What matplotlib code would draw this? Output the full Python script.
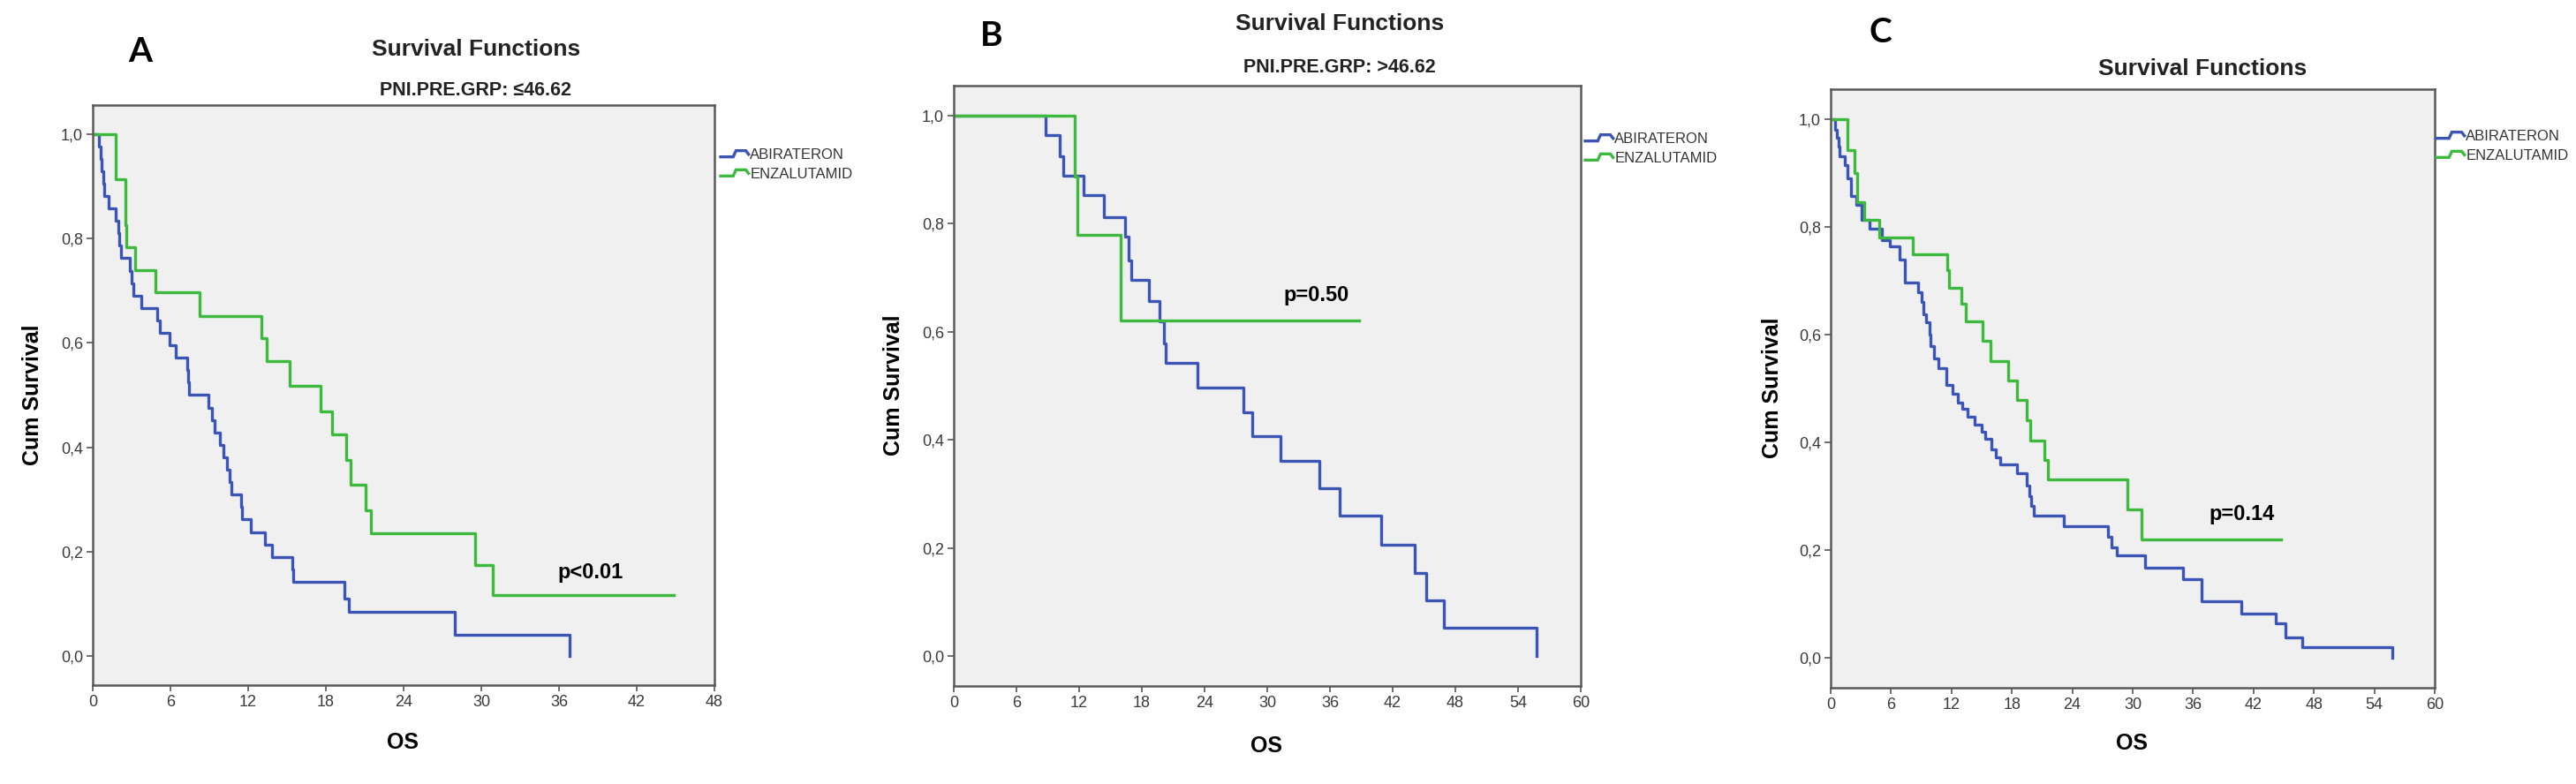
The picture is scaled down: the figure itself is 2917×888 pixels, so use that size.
#!/usr/bin/env python3
"""Kaplan-Meier survival curves, three panels (A, B, C), SPSS look."""

from __future__ import annotations

import matplotlib

matplotlib.use("Agg")
import matplotlib.pyplot as plt
from matplotlib.legend_handler import HandlerBase
from matplotlib.lines import Line2D
from matplotlib.ticker import FuncFormatter

# ---- data (months, cumulative survival) ----
groups = ["ABIRATERON", "ENZALUTAMID"]

a_abi_t = [0, 0.5, 0.6, 0.7, 0.8, 0.9, 1.25, 1.8, 1.95, 2.05, 2.15, 2.85, 3.0, 3.15,
           3.75, 5.0, 5.2, 5.95, 6.4, 7.3, 7.35, 7.4, 8.9, 9.2, 9.4, 9.8, 10.1, 10.35,
           10.6, 10.7, 11.45, 11.5, 12.2, 13.3, 13.85, 15.4, 15.5, 19.4, 19.8, 27.95, 36.8]
a_abi_s = [1.0, 0.976, 0.952, 0.929, 0.905, 0.881, 0.857, 0.833, 0.81, 0.786, 0.762,
           0.738, 0.714, 0.69, 0.667, 0.643, 0.619, 0.595, 0.571, 0.548, 0.524, 0.5,
           0.476, 0.452, 0.429, 0.405, 0.381, 0.357, 0.333, 0.31, 0.286, 0.262, 0.238,
           0.214, 0.19, 0.167, 0.143, 0.11, 0.085, 0.042, 0.0]
a_enz_t = [0, 1.75, 2.5, 2.55, 2.6, 3.3, 4.85, 8.25, 13.05, 13.45, 15.2, 17.6, 18.5,
           19.55, 19.9, 21.1, 21.5, 29.5, 30.9, 44.86]
a_enz_s = [1.0, 0.913, 0.87, 0.826, 0.783, 0.739, 0.696, 0.652, 0.609, 0.565, 0.517,
           0.469, 0.424, 0.376, 0.328, 0.28, 0.235, 0.174, 0.117, 0.117]

b_abi_t = [0, 8.8, 10.1, 10.5, 12.4, 14.35, 16.4, 16.7, 16.95, 18.7, 19.7, 20.1, 20.25,
           23.3, 27.7, 28.6, 31.3, 35.0, 36.9, 40.9, 44.1, 45.2, 46.9, 55.8]
b_abi_s = [1.0, 0.963, 0.925, 0.889, 0.852, 0.811, 0.776, 0.732, 0.696, 0.656, 0.619,
           0.579, 0.543, 0.496, 0.451, 0.407, 0.361, 0.31, 0.26, 0.206, 0.154, 0.103,
           0.052, 0.0]
b_enz_t = [0, 11.6, 11.8, 16.0, 38.8]
b_enz_s = [1.0, 0.887, 0.779, 0.621, 0.621]

c_abi_t = [0, 0.45, 0.6, 0.75, 0.9, 1.4, 1.7, 2.05, 2.5, 3.05, 3.9, 5.1, 5.85, 6.85,
           7.35, 8.7, 9.0, 9.25, 9.5, 9.8, 9.95, 10.25, 10.7, 11.5, 12.1, 12.6, 13.1,
           13.6, 14.3, 15.0, 15.35, 15.95, 16.4, 16.8, 18.5, 19.45, 19.7, 19.95, 20.2,
           23.2, 27.5, 27.9, 28.4, 31.2, 35.0, 36.8, 40.8, 44.2, 45.2, 46.8, 55.8]
c_abi_s = [1.0, 0.98, 0.965, 0.948, 0.931, 0.914, 0.89, 0.857, 0.84, 0.813, 0.797,
           0.775, 0.764, 0.739, 0.696, 0.679, 0.66, 0.638, 0.622, 0.6, 0.578, 0.556,
           0.537, 0.507, 0.49, 0.474, 0.463, 0.447, 0.433, 0.42, 0.406, 0.387, 0.373,
           0.36, 0.343, 0.32, 0.3, 0.283, 0.264, 0.244, 0.225, 0.206, 0.19, 0.168,
           0.146, 0.105, 0.083, 0.064, 0.039, 0.02, 0.0]
c_enz_t = [0, 1.7, 2.4, 2.6, 3.36, 4.8, 8.2, 11.55, 11.75, 13.0, 13.45, 15.06, 15.85,
           17.6, 18.55, 19.5, 19.8, 21.25, 21.55, 29.5, 30.85, 44.7]
c_enz_s = [1.0, 0.942, 0.9, 0.846, 0.813, 0.78, 0.749, 0.72, 0.687, 0.657, 0.625,
           0.589, 0.551, 0.515, 0.479, 0.441, 0.403, 0.368, 0.332, 0.275, 0.22, 0.22]

panel_letters = ["A", "B", "C"]
subtitles = ["PNI.PRE.GRP: \u226446.62", "PNI.PRE.GRP: >46.62", None]
p_texts = ["p<0.01", "p=0.50", "p=0.14"]
p_pos = [(38.4, 0.16), (34.7, 0.668), (40.85, 0.266)]
x_max = [48, 60, 60]

W, H = 2917, 888
BLUE = "#3b55b4"
GREEN = "#3dba3d"
BOLD = ["Liberation Sans", "DejaVu Sans"]
NARROW = ["Liberation Sans Narrow", "Liberation Sans", "DejaVu Sans"]


class StepHandler(HandlerBase):
    """SPSS-like little step glyph in the legend."""

    def create_artists(self, legend, orig_handle, xdescent, ydescent, width, height,
                       fontsize, trans):
        x0, y0 = -xdescent, -ydescent
        xs = [x0, x0 + 0.45 * width, x0 + 0.55 * width, x0 + 0.9 * width, x0 + width]
        ys = [y0 + 0.2 * height, y0 + 0.2 * height, y0 + 0.8 * height,
              y0 + 0.8 * height, y0 + 0.45 * height]
        line = Line2D(xs, ys, color=orig_handle.get_color(), lw=orig_handle.get_linewidth(),
                      solid_joinstyle="miter")
        line.set_transform(trans)
        return [line]


def px(x: float, y: float) -> tuple[float, float]:
    return x / W, 1 - y / H


def add_panel(fig, box, curves, xmax, letter, subtitle, ptext, ppos, lay):
    l, t, r, b = box
    ax = fig.add_axes([l / W, 1 - b / H, (r - l) / W, (b - t) / H])
    ax.set_facecolor("#f0f0f0")
    handles = []
    for (tt, ss), col, name in zip(curves, [BLUE, GREEN], groups):
        h, = ax.step(tt, ss, where="post", color=col, lw=2.4, label=name)
        handles.append(h)

    ax.set_xlim(0, xmax)
    ax.set_ylim(-0.055, 1.055)
    ax.set_xticks(range(0, xmax + 1, 6))
    ax.set_yticks([0, 0.2, 0.4, 0.6, 0.8, 1.0])
    ax.yaxis.set_major_formatter(FuncFormatter(lambda v, _: f"{v:.1f}".replace(".", ",")))
    ax.tick_params(direction="out", length=5, width=1.2, color="#555555",
                   labelcolor="#3a3a3a", labelsize=13, pad=3)
    for lab in ax.get_xticklabels() + ax.get_yticklabels():
        lab.set_family(NARROW)
    for sp in ax.spines.values():
        sp.set_color("#5a5a5a")
        sp.set_linewidth(1.8)

    ax.text(ppos[0], ppos[1], ptext, ha="center", va="center", fontsize=17,
            fontweight="bold", family=BOLD)

    leg = ax.legend(handles=handles, loc="upper left",
                    bbox_to_anchor=px(*lay["legend"]), bbox_transform=fig.transFigure,
                    frameon=False, handlelength=1.9, handletextpad=0.1,
                    borderaxespad=0, borderpad=0, labelspacing=0.4,
                    handler_map={Line2D: StepHandler()},
                    prop={"family": NARROW, "size": 12})
    for txt in leg.get_texts():
        txt.set_color("#333333")

    fig.text(*px(*lay["letter"]), letter, ha="center", va="center", fontsize=28,
             fontweight="bold", family=["Lato", "DejaVu Sans"])
    fig.text(*px(*lay["title"]), "Survival Functions", ha="center", va="center",
             fontsize=19, fontweight="bold", family=BOLD, color="#222222")
    if subtitle:
        fig.text(*px(*lay["subtitle"]), subtitle, ha="center", va="center",
                 fontsize=15.5, fontweight="bold", family=BOLD, color="#222222")
    fig.text(*px(*lay["ylabel"]), "Cum Survival", ha="center", va="center",
             rotation=90, fontsize=18, fontweight="bold", family=BOLD)
    fig.text(*px(*lay["xlabel"]), "OS", ha="center", va="center", fontsize=18,
             fontweight="bold", family=BOLD)
    return ax


def main() -> int:
    fig = plt.figure(figsize=(W / 100, H / 100), dpi=100)

    boxes = [(105, 119, 809, 776), (1080, 97, 1790, 777), (2073, 101, 2757, 779)]
    layouts = [
        {"letter": (159, 59), "title": (539, 56), "subtitle": (539, 102),
         "ylabel": (37, 447), "xlabel": (456, 841), "legend": (816, 168)},
        {"letter": (1123, 40), "title": (1517, 27), "subtitle": (1517, 76),
         "ylabel": (1012, 436), "xlabel": (1434, 845), "legend": (1795, 150)},
        {"letter": (2129, 37), "title": (2494, 78), "subtitle": None,
         "ylabel": (2007, 439), "xlabel": (2414, 842), "legend": (2759, 147)},
    ]
    all_curves = [
        [(a_abi_t, a_abi_s), (a_enz_t, a_enz_s)],
        [(b_abi_t, b_abi_s), (b_enz_t, b_enz_s)],
        [(c_abi_t, c_abi_s), (c_enz_t, c_enz_s)],
    ]

    for i in range(3):
        add_panel(fig, boxes[i], all_curves[i], x_max[i], panel_letters[i], subtitles[i],
                  p_texts[i], p_pos[i], layouts[i])

    fig.savefig("out.png", dpi=100, facecolor="white")
    plt.close(fig)
    return 0


if __name__ == "__main__":
    raise SystemExit(main())
